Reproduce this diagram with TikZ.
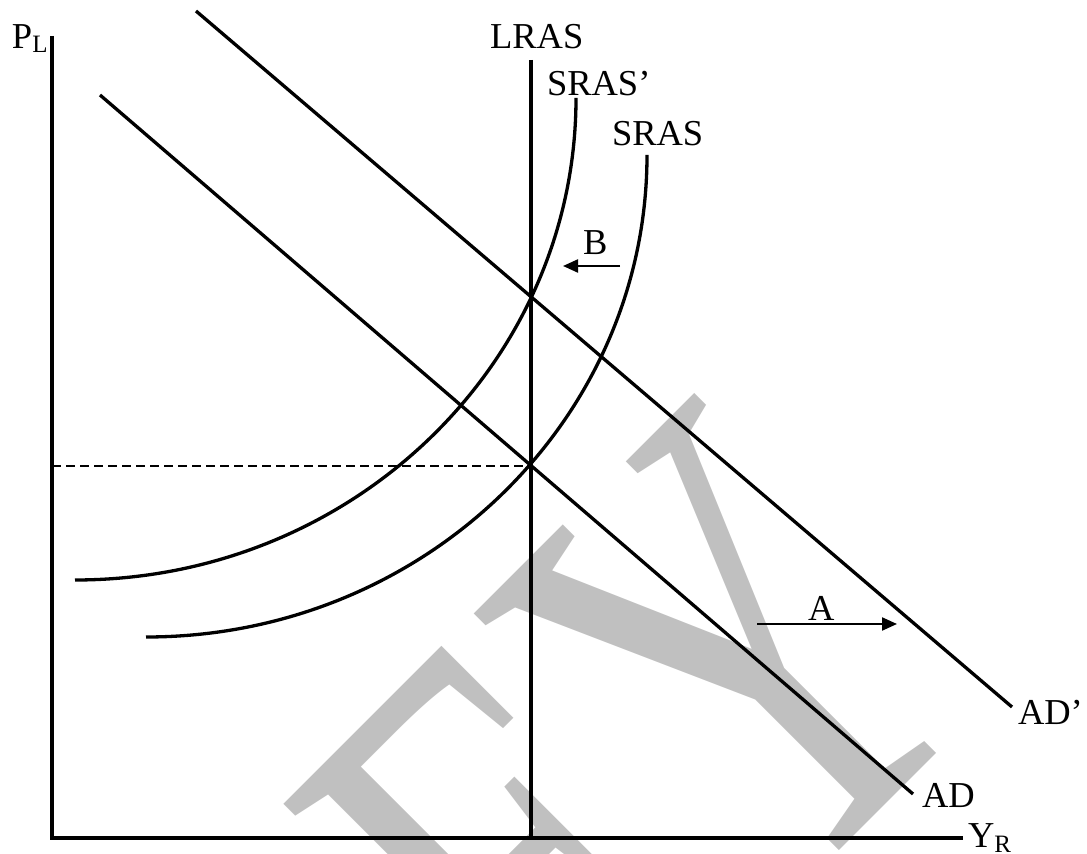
\documentclass[tikz,border=0pt]{standalone}
\usepackage{fontspec}
\setmainfont{Liberation Serif}
\usetikzlibrary{arrows.meta}
\definecolor{wmgray}{HTML}{C0C0C0}
\tikzset{
  lbl/.style={anchor=base west, inner sep=0pt, outer sep=0pt, font=\fontsize{36.5}{40}\selectfont},
  axisline/.style={line width=4.4pt},
  curveline/.style={line width=3.3pt},
  shiftarrow/.style={line width=2.2pt, -{Triangle[length=15pt,width=13pt]}},
  guide/.style={line width=2pt, dash pattern=on 9pt off 5pt}
}
\newcommand{\sublbl}[1]{\raisebox{-4pt}{\fontsize{25}{25}\selectfont #1}}
\begin{document}
\begin{tikzpicture}[x=1pt,y=1pt]
\useasboundingbox (0,0) rectangle (1087,854);
\clip (0,0) rectangle (1087,854);
% watermark
\node[anchor=base west, inner sep=0pt, rotate=45, text=wmgray,
      font=\fontsize{650}{650}\selectfont] (wm) at (575,-261) {\scalebox{0.7}[1]{EY}};
% coordinates
\coordinate (O) at (52,16);
\coordinate (ytop) at (52,818);
\coordinate (xend) at (963,16);
\coordinate (lrastop) at (531,794);
\coordinate (lrasbot) at (531,16);
\coordinate (adstart) at (100,759);
\coordinate (adend) at (913,60);
\coordinate (adpstart) at (196,843);
\coordinate (adpend) at (1012,147);
\coordinate (eq) at (531,388);
\coordinate (pe) at (52,388);
\coordinate (srasPstart) at (75,274);
\coordinate (srasstart) at (146,217);
\coordinate (btail) at (620,588);
\coordinate (bhead) at (563,588);
\coordinate (atail) at (757,230);
\coordinate (ahead) at (897,230);
% axes
\draw[axisline] (ytop) -- (O) -- (xend);
% LRAS
\draw[curveline] (lrastop) -- (lrasbot);
% AD and AD'
\draw[curveline] (adstart) -- (adend);
\draw[curveline] (adpstart) -- (adpend);
% SRAS' and SRAS
\draw[curveline] (srasPstart) arc[start angle=270, end angle=360, x radius=501, y radius=482];
\draw[curveline] (srasstart) arc[start angle=270, end angle=360, x radius=501, y radius=482];
% dashed guide
\draw[guide] (pe) -- (eq);
% shift arrows
\draw[shiftarrow] (btail) -- (bhead);
\draw[shiftarrow] (atail) -- (ahead);
% labels
\node[lbl] (pl) at (12,805) {P\sublbl{L}};
\node[lbl] (lras) at (490,805) {LRAS};
\node[lbl] (srasp) at (547,758) {SRAS’};
\node[lbl] (sras) at (612,708) {SRAS};
\node[lbl] (b) at (583,599) {B};
\node[lbl] (a) at (808,233) {A};
\node[lbl] (ad) at (922,46) {AD};
\node[lbl] (adp) at (1018,129) {AD’};
\node[lbl] (yr) at (968,6) {Y\sublbl{R}};
\end{tikzpicture}
\end{document}
